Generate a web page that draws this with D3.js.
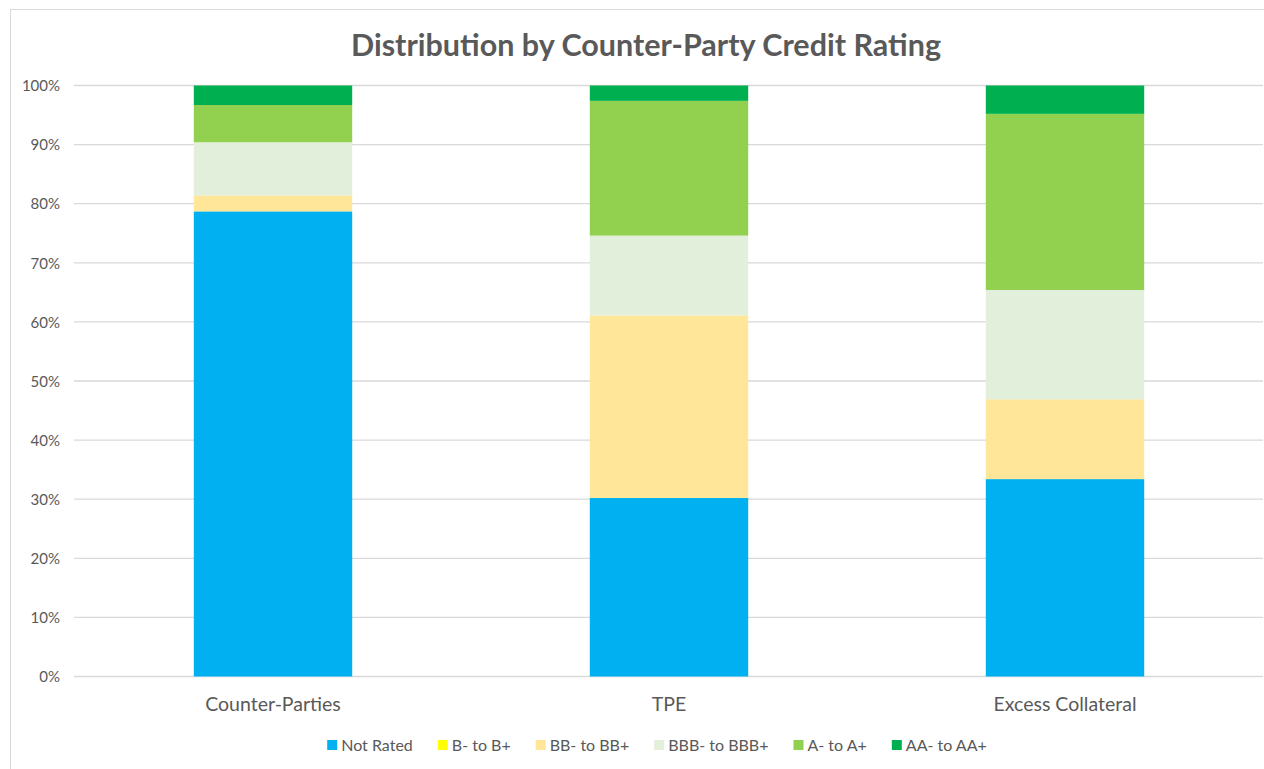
<!DOCTYPE html>
<html><head><meta charset="utf-8">
<script src="https://cdn.jsdelivr.net/npm/d3@7"></script>
<style>body{margin:0;background:#fff;} svg{display:block;font-family:Lato,"Open Sans",sans-serif;}</style>
</head><body>
<svg id="chart" width="1264" height="769"></svg>
<script>
const categories = ["Counter-Parties", "TPE", "Excess Collateral"];
const seriesNames = ["Not Rated", "B- to B+", "BB- to BB+", "BBB- to BBB+", "A- to A+", "AA- to AA+"];
const notRated = [78.7, 30.2, 33.4];
const bToB = [0, 0, 0];
const bbToBB = [2.7, 30.9, 13.5];
const bbbToBBB = [9.0, 13.5, 18.5];
const aToA = [6.3, 22.8, 29.8];
const aaToAA = [3.3, 2.6, 4.8];
const tickValues = [0, 10, 20, 30, 40, 50, 60, 70, 80, 90, 100];
const colors = ["#00B0F0", "#FFFF00", "#FFE699", "#E2EFDA", "#92D050", "#00B050"];

const seriesValues = [notRated, bToB, bbToBB, bbbToBBB, aToA, aaToAA];
const table = categories.map((c, i) => {
  const row = {cat: c};
  seriesNames.forEach((s, j) => row[s] = seriesValues[j][i]);
  return row;
});

const FONT = 'Lato, "Open Sans", sans-serif';
const svg = d3.select("#chart");
const plotLeft = 75, plotRight = 1263, plotTop = 85.5, plotBottom = 676.5;

svg.append("rect").attr("x", 10.5).attr("y", 9.5).attr("width", 1262).attr("height", 770)
  .attr("fill", "#fff").attr("stroke", "#D9D9D9").attr("stroke-width", 1);

const x = d3.scaleBand().domain(categories).range([plotLeft, plotRight]).paddingInner(0.6).paddingOuter(0.3);
const y = d3.scaleLinear().domain([0, 100]).range([plotBottom, plotTop]);

// gridlines
svg.append("g").selectAll("line").data(tickValues).join("line")
  .attr("x1", plotLeft - 1).attr("x2", plotRight)
  .attr("y1", d => y(d)).attr("y2", d => y(d))
  .attr("stroke", "#D9D9D9").attr("stroke-width", 1.3);

// y axis
const yAxis = d3.axisLeft(y).tickValues(tickValues).tickFormat(d => d + "%").tickSize(0).tickPadding(0);
const gy = svg.append("g").attr("transform", `translate(60,0)`).call(yAxis).attr("font-family", FONT);
gy.select(".domain").remove();
gy.selectAll("text").attr("fill", "#595959").style("font-size", "15px").attr("dy", "0.35em");

// stacked bars
const stack = d3.stack().keys(seriesNames);
const stacked = stack(table);
svg.append("g").selectAll("g").data(stacked).join("g")
  .attr("fill", (d, i) => colors[i])
  .selectAll("rect").data(d => d).join("rect")
  .attr("x", d => x(d.data.cat))
  .attr("width", x.bandwidth())
  .attr("y", d => y(d[1]))
  .attr("height", d => y(d[0]) - y(d[1]));

// x axis
const xAxis = d3.axisBottom(x).tickSize(0).tickPadding(0);
const gx = svg.append("g").attr("transform", `translate(0,${plotBottom})`).call(xAxis).attr("font-family", FONT);
gx.select(".domain").remove();
gx.selectAll("text").attr("fill", "#595959").style("font-size", "19.5px").attr("dy", null).attr("y", 34);

// title
svg.append("text").attr("x", 646).attr("y", 56).attr("text-anchor", "middle")
  .attr("fill", "#595959").style("font-size", "30.5px").style("font-weight", "bold")
  .text("Distribution by Counter-Party Credit Rating");

// legend
const lg = svg.append("g");
const items = lg.selectAll("g").data(seriesNames).join("g");
items.append("rect").attr("width", 10).attr("height", 10).attr("y", -5).attr("fill", (d, i) => colors[i]);
items.append("text").attr("x", 14).attr("dy", "0.35em").attr("fill", "#595959").style("font-size", "16px").text(d => d);
let cx = 0;
const widths = [];
items.each(function() { widths.push(this.getBBox().width); });
const gap = 25;
const total = d3.sum(widths) + gap * (widths.length - 1);
items.attr("transform", (d, i) => { const t = `translate(${cx},0)`; cx += widths[i] + gap; return t; });
lg.attr("transform", `translate(${657 - total / 2},745)`);
</script>
</body></html>
